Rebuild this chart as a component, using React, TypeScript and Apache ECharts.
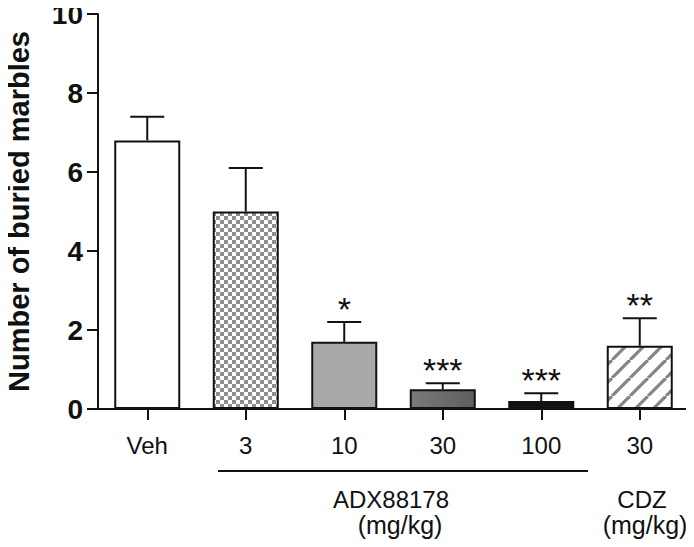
import React, { useEffect, useRef } from "react";
import * as echarts from "echarts";

const categories = ["Veh", "3", "10", "30", "100", "30"];
const means = [6.8, 5.0, 1.7, 0.5, 0.2, 1.6];
const upperErr = [7.4, 6.1, 2.2, 0.65, 0.4, 2.3];
const sigMarks = ["", "", "*", "***", "***", "**"];
const yMin = 0;
const yMax = 10;
const yStep = 2;
const yAxisTitle = "Number of buried marbles";
const groupLabels = ["ADX88178", "(mg/kg)", "CDZ", "(mg/kg)"];

const FONT = "Arial, 'Liberation Sans', Helvetica, sans-serif";
const INK = "#111";

function makeChecker(): HTMLCanvasElement {
  const c = document.createElement("canvas");
  c.width = 8;
  c.height = 8;
  const g = c.getContext("2d")!;
  g.fillStyle = "#ffffff";
  g.fillRect(0, 0, 8, 8);
  g.fillStyle = "#8e8e8e";
  g.fillRect(0, 0, 4, 4);
  g.fillRect(4, 4, 4, 4);
  return c;
}

function makeStripes(): HTMLCanvasElement {
  const s = 18;
  const c = document.createElement("canvas");
  c.width = s;
  c.height = s;
  const g = c.getContext("2d")!;
  g.fillStyle = "#ffffff";
  g.fillRect(0, 0, s, s);
  g.strokeStyle = "#858585";
  g.lineWidth = 3.2;
  for (const x0 of [-s, 0, s]) {
    g.beginPath();
    g.moveTo(x0, s);
    g.lineTo(x0 + s, 0);
    g.stroke();
  }
  return c;
}

export default function App() {
  const ref = useRef<HTMLDivElement>(null);

  useEffect(() => {
    if (!ref.current) return;
    const chart = echarts.init(ref.current, undefined, { renderer: "svg" });

    const fills: any[] = [
      "#ffffff",
      { image: makeChecker(), repeat: "repeat" },
      "#a9a9a9",
      {
        type: "linear",
        x: 0,
        y: 0,
        x2: 1,
        y2: 0,
        colorStops: [
          { offset: 0, color: "#7a7a7a" },
          { offset: 1, color: "#5e5e5e" },
        ],
      },
      "#121212",
      { image: makeStripes(), repeat: "repeat" },
    ];

    const errData = means.map((m, i) => [i, m, upperErr[i]]);

    const textEl = (text: string, x: number, y: number, size: number) => ({
      type: "text",
      x,
      y,
      style: {
        text,
        fontSize: size,
        fontFamily: FONT,
        fill: INK,
        align: "center",
        verticalAlign: "middle",
      },
    });

    chart.setOption({
      animation: false,
      backgroundColor: "#ffffff",
      grid: {
        left: 98,
        top: 14,
        width: 591,
        height: 395,
        containLabel: false,
        outerBoundsMode: "none",
      },
      xAxis: {
        type: "category",
        data: categories,
        axisLine: { show: true, lineStyle: { color: INK, width: 2 } },
        axisTick: {
          show: true,
          alignWithLabel: true,
          length: 11,
          lineStyle: { color: INK, width: 2 },
        },
        axisLabel: {
          color: INK,
          fontSize: 24,
          fontFamily: FONT,
          margin: 24,
        },
      },
      yAxis: {
        type: "value",
        min: yMin,
        max: yMax,
        interval: yStep,
        name: yAxisTitle,
        nameLocation: "middle",
        nameGap: 65,
        nameTextStyle: {
          color: INK,
          fontSize: 29,
          fontWeight: "bold",
          fontFamily: FONT,
        },
        axisLine: { show: true, lineStyle: { color: INK, width: 2 } },
        axisTick: { show: true, length: 11, lineStyle: { color: INK, width: 2 } },
        axisLabel: {
          color: INK,
          fontSize: 28,
          fontWeight: "bold",
          fontFamily: FONT,
          margin: 15,
        },
        splitLine: { show: false },
      },
      graphic: [
        {
          type: "line",
          shape: { x1: 218, y1: 471, x2: 588, y2: 471 },
          style: { stroke: INK, lineWidth: 2 },
        },
        textEl(groupLabels[0], 391, 499, 24),
        textEl(groupLabels[1], 400, 525, 25),
        textEl(groupLabels[2], 642, 499, 24),
        textEl(groupLabels[3], 645, 525, 25),
      ],
      series: [
        {
          type: "bar",
          barWidth: 66,
          data: means.map((v, i) => ({
            value: v,
            itemStyle: { color: fills[i], borderColor: INK, borderWidth: 2 },
          })),
          z: 2,
        },
        {
          type: "custom",
          z: 5,
          data: errData,
          renderItem: (params: any, api: any) => {
            const i = api.value(0);
            const base = api.coord([i, api.value(1)]);
            const top = api.coord([i, api.value(2)]);
            const mark = sigMarks[params.dataIndex];
            const half = 17;
            const children: any[] = [
              {
                type: "line",
                shape: { x1: base[0], y1: base[1], x2: top[0], y2: top[1] },
                style: { stroke: INK, lineWidth: 2 },
              },
              {
                type: "line",
                shape: { x1: top[0] - half, y1: top[1], x2: top[0] + half, y2: top[1] },
                style: { stroke: INK, lineWidth: 2 },
              },
            ];
            if (mark) {
              children.push({
                type: "text",
                x: top[0],
                y: top[1] - 13,
                style: {
                  text: mark,
                  fontSize: 34,
                  fontFamily: FONT,
                  fill: INK,
                  align: "center",
                  verticalAlign: "middle",
                },
              });
            }
            return { type: "group", children };
          },
        },
      ],
    });

    return () => chart.dispose();
  }, []);

  return <div ref={ref} style={{ width: 694, height: 547, margin: -8 }} />;
}
